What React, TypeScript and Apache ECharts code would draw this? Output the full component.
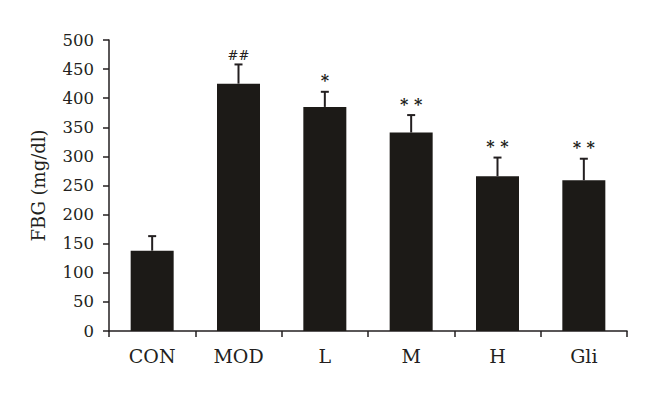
import React, { useEffect, useRef } from "react";
import * as echarts from "echarts";

const categories = ["CON", "MOD", "L", "M", "H", "Gli"];
const means = [138, 425, 385, 341, 266, 259];
const errors = [25, 33, 26, 30, 32, 37];
const marks = ["", "##", "*", "* *", "* *", "* *"];
const yTicks = { min: 0, max: 500, interval: 50 };

const FONT = "DejaVu Serif";
const INK = "#231f20";
const BAR = "#1c1a17";

export default function App() {
  const ref = useRef<HTMLDivElement>(null);
  useEffect(() => {
    if (!ref.current) return;
    const chart = echarts.init(ref.current, undefined, { renderer: "svg" });
    chart.setOption({
      animation: false,
      backgroundColor: "#ffffff",
      grid: { left: 109, right: 33, top: 40, bottom: 66 },
      xAxis: {
        type: "category",
        data: categories,
        boundaryGap: true,
        axisLine: { lineStyle: { color: INK, width: 1.5 } },
        axisTick: { show: true, length: 6, lineStyle: { color: INK, width: 1.5 } },
        axisLabel: { color: INK, fontFamily: FONT, fontSize: 19, margin: 15 },
      },
      yAxis: {
        type: "value",
        min: yTicks.min,
        max: yTicks.max,
        interval: yTicks.interval,
        name: "FBG (mg/dl)",
        nameLocation: "middle",
        nameGap: 62,
        nameTextStyle: { color: INK, fontFamily: FONT, fontSize: 18 },
        splitLine: { show: false },
        axisLine: { show: true, lineStyle: { color: INK, width: 1.5 } },
        axisTick: { show: true, length: 6, lineStyle: { color: INK, width: 1.5 } },
        axisLabel: { color: INK, fontFamily: FONT, fontSize: 16.5, margin: 15 },
      },
      series: [
        {
          type: "bar",
          data: means,
          barWidth: 43,
          itemStyle: { color: BAR },
        },
        {
          type: "custom",
          data: categories.map((_, i) => [i, means[i], errors[i]]),
          z: 3,
          renderItem: (params: any, api: any) => {
            const i = api.value(0);
            const m = api.value(1);
            const e = api.value(2);
            const base = api.coord([i, m]);
            const top = api.coord([i, m + e]);
            const half = 4;
            const ls = { stroke: INK, lineWidth: 2 };
            const mark = marks[params.dataIndex];
            const isStar = mark.indexOf("*") >= 0;
            return {
              type: "group",
              children: [
                { type: "line", shape: { x1: base[0], y1: base[1], x2: top[0], y2: top[1] }, style: ls },
                { type: "line", shape: { x1: top[0] - half, y1: top[1], x2: top[0] + half, y2: top[1] }, style: ls },
                {
                  type: "text",
                  style: {
                    text: mark,
                    x: top[0],
                    y: isStar ? top[1] - 3 : top[1] - 2,
                    align: "center",
                    verticalAlign: "bottom",
                    fontFamily: FONT,
                    fontWeight: isStar ? "bold" : "normal",
                    fontSize: isStar ? 16 : 13,
                    fill: INK,
                  },
                },
              ],
            };
          },
        },
      ],
    });
    return () => chart.dispose();
  }, []);
  return <div ref={ref} style={{ position: "fixed", left: 0, top: 0, width: 660, height: 397 }} />;
}
